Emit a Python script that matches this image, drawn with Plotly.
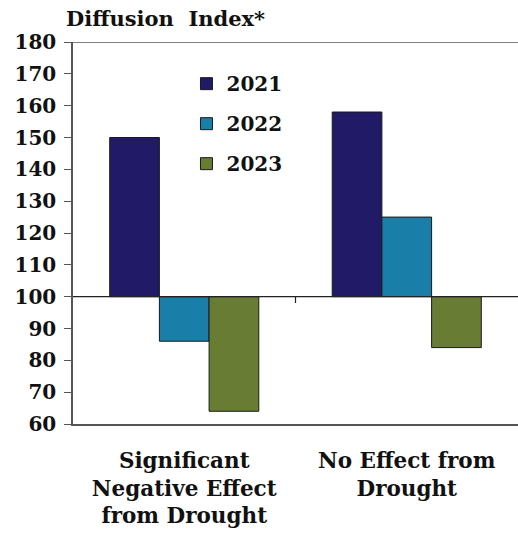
import plotly.graph_objects as go

# Diffusion index by drought impact category, three survey years
categories = ["Significant<br>Negative Effect<br>from Drought", "No Effect from<br>Drought"]
years = ["2021", "2022", "2023"]
values_2021 = [150, 158]
values_2022 = [86, 125]
values_2023 = [64, 84]
baseline = 100
y_ticks = list(range(60, 181, 10))

series = [values_2021, values_2022, values_2023]
colors = ["#211a66", "#1a7fa8", "#687d33"]

SERIF = "DejaVu Serif"

fig = go.Figure()
for i, (yr, vals, col) in enumerate(zip(years, series, colors)):
    fig.add_trace(go.Bar(
        x=[0, 1],
        y=[v - baseline for v in vals],
        base=baseline,
        name=yr,
        legendgroup=yr,
        marker=dict(color=col, line=dict(color="#1a1a1a", width=1)),
        hovertemplate="%{x}: %{customdata}<extra>" + yr + "</extra>",
        customdata=vals,
    ))

fig.update_layout(
    width=518, height=533,
    margin=dict(l=73, r=0, t=42, b=109),
    paper_bgcolor="white", plot_bgcolor="white",
    barmode="group", bargap=0.33, bargroupgap=0,
    font=dict(family=SERIF, color="#111111"),
    showlegend=True,
    legend=dict(
        x=0.255, y=0.942, xanchor="left", yanchor="top",
        font=dict(family=SERIF, size=20, color="#111111", weight="bold"),
        bgcolor="rgba(0,0,0,0)", traceorder="grouped", tracegroupgap=11,
        itemwidth=30,
    ),
    xaxis=dict(
        range=[-0.5, 1.5],
        tickmode="array", tickvals=[0, 1], ticktext=categories,
        showline=True, linecolor="#555555", linewidth=1.5,
        ticks="", showgrid=False, zeroline=False,
        tickfont=dict(family=SERIF, size=21.5, color="#111111", weight="bold"),
        ticklabelstandoff=16,
    ),
    yaxis=dict(
        range=[60, 180], tickmode="array", tickvals=y_ticks,
        showline=True, linecolor="#555555", linewidth=1.5,
        ticks="outside", ticklen=7, tickcolor="#555555",
        showgrid=False, zeroline=False,
        tickfont=dict(family=SERIF, size=20, color="#111111", weight="bold"),
        ticklabelstandoff=4,
    ),
    annotations=[dict(
        text="Diffusion  Index*", xref="paper", yref="paper",
        x=-0.02, y=1.0, xanchor="left", yanchor="bottom", yshift=9,
        showarrow=False,
        font=dict(family=SERIF, size=21, color="#111111", weight="bold"),
    )],
    shapes=[
        # reference line at the index baseline
        dict(type="line", xref="paper", yref="y", x0=0, x1=1, y0=baseline, y1=baseline,
             line=dict(color="#222222", width=1.2)),
        # top frame line at axis maximum
        dict(type="line", xref="paper", yref="y", x0=-0.02, x1=1, y0=180, y1=180,
             line=dict(color="#555555", width=1.5)),
        # category separator tick on the baseline
        dict(type="line", xref="x", yref="y", x0=0.5, x1=0.5, y0=baseline, y1=baseline - 2,
             line=dict(color="#222222", width=1.2)),
    ],
)

fig.write_html("out.html")
